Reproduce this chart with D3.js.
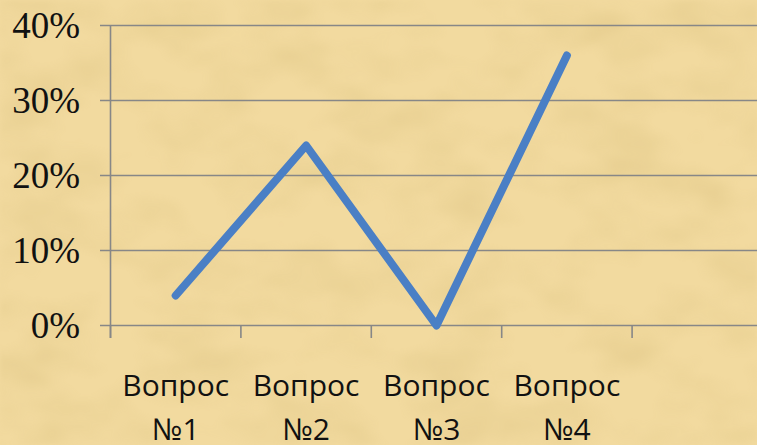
<!DOCTYPE html>
<html>
<head>
<meta charset="utf-8">
<script src="https://cdn.jsdelivr.net/npm/d3@7"></script>
<style>
  html, body { margin: 0; padding: 0; background: #f1d9a2; }
  svg { display: block; }
</style>
</head>
<body>
<svg width="757" height="445"></svg>
<script>
// categories + values (share of answers)
var questions = ["Вопрос №1", "Вопрос №2", "Вопрос №3", "Вопрос №4", ""];
var values = [0.04, 0.24, 0.00, 0.36];
var yTicks = [0, 0.1, 0.2, 0.3, 0.4];

var svg = d3.select("svg"),
    W = +svg.attr("width"),
    H = +svg.attr("height");

// parchment-ish background
var defs = svg.append("defs");
var f = defs.append("filter").attr("id", "paper")
    .attr("x", 0).attr("y", 0).attr("width", "100%").attr("height", "100%");
f.append("feTurbulence")
    .attr("type", "fractalNoise")
    .attr("baseFrequency", "0.012 0.02")
    .attr("numOctaves", 3)
    .attr("seed", 7);
f.append("feColorMatrix")
    .attr("type", "matrix")
    .attr("values", "0 0 0 0 0.55  0 0 0 0 0.40  0 0 0 0 0.12  1.1 0 0 0 -0.45");
f.append("feGaussianBlur").attr("stdDeviation", 2);

svg.append("rect").attr("width", W).attr("height", H).attr("fill", "#f2da9f");
svg.append("rect").attr("width", W).attr("height", H)
    .attr("filter", "url(#paper)").attr("opacity", 0.4);

var x = d3.scaleBand()
    .domain(questions)
    .range([110.5, 762.5]);

var y = d3.scaleLinear()
    .domain([0, 0.4])
    .range([325.5, 25.5]);

// gridlines
svg.append("g")
  .selectAll("line").data(yTicks).enter().append("line")
    .attr("x1", 100).attr("x2", W)
    .attr("y1", function(d) { return y(d); })
    .attr("y2", function(d) { return y(d); })
    .attr("stroke", "#878787")
    .attr("stroke-width", 1.6);

// y axis line
svg.append("line")
    .attr("x1", 110.5).attr("x2", 110.5)
    .attr("y1", y(0.4)).attr("y2", 338)
    .attr("stroke", "#878787")
    .attr("stroke-width", 1.6);

// x ticks on band edges
var edges = questions.map(function(d) { return x(d); });
svg.append("g")
  .selectAll("line").data(edges).enter().append("line")
    .attr("x1", function(d) { return d; })
    .attr("x2", function(d) { return d; })
    .attr("y1", y(0)).attr("y2", 338)
    .attr("stroke", "#878787")
    .attr("stroke-width", 1.6);

// y labels
var pct = d3.format(".0%");
svg.append("g")
  .selectAll("text").data(yTicks).enter().append("text")
    .attr("x", 80)
    .attr("y", function(d) { return y(d); })
    .attr("dy", "0.34em")
    .attr("text-anchor", "end")
    .attr("font-family", "'Liberation Serif', 'Times New Roman', serif")
    .attr("font-size", 37)
    .attr("fill", "#111")
    .text(function(d) { return pct(d); });

// x labels, two lines each
var lab = svg.append("g")
  .selectAll("text").data(questions.filter(function(d) { return d; })).enter().append("text")
    .attr("text-anchor", "middle")
    .attr("font-family", "'Open Sans', 'Noto Sans', sans-serif")
    .attr("font-size", 30)
    .attr("fill", "#111");
lab.append("tspan")
    .attr("x", function(d) { return x(d) + x.bandwidth() / 2; })
    .attr("y", 396)
    .text(function(d) { return d.split(" ")[0]; });
lab.append("tspan")
    .attr("x", function(d) { return x(d) + x.bandwidth() / 2; })
    .attr("y", 440)
    .text(function(d) { return d.split(" ")[1]; });

// the series line
var line = d3.line()
    .x(function(d, i) { return x(questions[i]) + x.bandwidth() / 2; })
    .y(function(d) { return y(d); });

svg.append("path")
    .datum(values)
    .attr("d", line)
    .attr("fill", "none")
    .attr("stroke", "#4a7fc5")
    .attr("stroke-width", 8)
    .attr("stroke-linecap", "round")
    .attr("stroke-linejoin", "round");
</script>
</body>
</html>
